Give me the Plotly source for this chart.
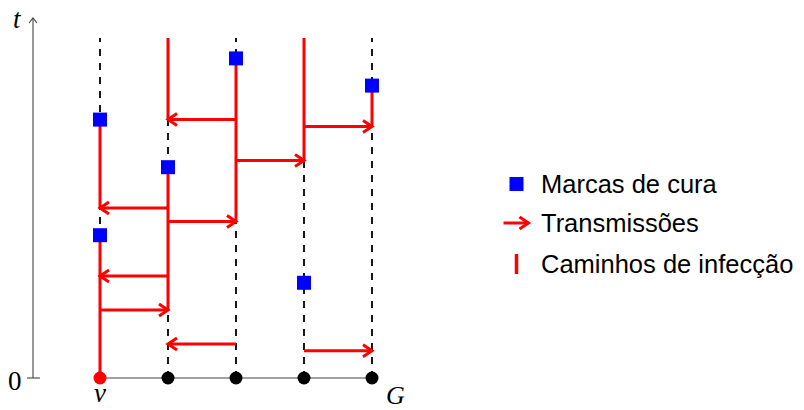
import plotly.graph_objects as go

# ---------------- data ----------------
columns = [0, 1, 2, 3, 4]
node_colors = ["#ff0000", "#000000", "#000000", "#000000", "#000000"]
t_max = 5.0

cure_col = [0, 0, 1, 2, 3, 4]
cure_t = [2.1, 3.8, 3.1, 4.7, 1.4, 4.3]

arrow_src = [0, 1, 1, 1, 2, 2, 2, 3, 3]
arrow_dst = [1, 0, 0, 2, 1, 1, 3, 4, 4]
arrow_t = [1.0, 1.5, 2.5, 2.3, 0.5, 3.8, 3.2, 0.4, 3.7]

path_col = [0, 0, 1, 1, 2, 3, 4]
path_t0 = [0.0, 2.5, 1.0, 3.8, 2.3, 3.2, 3.7]
path_t1 = [2.1, 3.8, 3.1, 5.0, 4.7, 5.0, 4.3]

legend_labels = ["Marcas de cura", "Transmissões", "Caminhos de infecção"]

# ---------------- style ----------------
RED = "#ff0000"
BLUE = "#0000ff"
PX = 68.0                 # pixels per data unit (both axes)
W, H = 804, 410
X0_PX, Y0_PX = 100.0, 378.0   # pixel position of (column 0, t = 0)
HX, HY = 9 / PX, 6 / PX       # arrow head size
AXIS_X = -67 / PX
AXIS_TOP = 360 / PX

fig = go.Figure()

def line(xs, ys, color, width, dash="solid"):
    fig.add_trace(go.Scatter(x=xs, y=ys, mode="lines", hoverinfo="skip",
                             line=dict(color=color, width=width, dash=dash),
                             showlegend=False))

def arrow(x0, x1, y, color, width):
    d = 1 if x1 > x0 else -1
    line([x0, x1, None, x1 - d * HX, x1, x1 - d * HX],
         [y, y, None, y + HY, y, y - HY], color, width)

# dashed time lines
for c in columns:
    line([c, c], [0, t_max], "#000000", 1.8, dash="7px,7px")

# time axis
line([AXIS_X, AXIS_X], [0, AXIS_TOP], "#444444", 1.1)
line([AXIS_X - 4 / PX, AXIS_X, AXIS_X + 4 / PX], [AXIS_TOP - 5 / PX, AXIS_TOP, AXIS_TOP - 5 / PX], "#444444", 1.1)
line([AXIS_X - 6 / PX, AXIS_X + 7 / PX], [0, 0], "#444444", 1.1)

# base graph line
line([columns[0], columns[-1]], [0, 0], "#444444", 1.1)

# infection paths
for c, a, b in zip(path_col, path_t0, path_t1):
    line([c, c], [a, b], RED, 3)

# transmissions
for s, d, t in zip(arrow_src, arrow_dst, arrow_t):
    arrow(columns[s], columns[d], t, RED, 3)

# cure marks
fig.add_trace(go.Scatter(x=[columns[c] for c in cure_col], y=cure_t, mode="markers",
                         hoverinfo="skip", showlegend=False,
                         marker=dict(symbol="square", size=14, color=BLUE, line=dict(width=0))))

# vertices
fig.add_trace(go.Scatter(x=columns, y=[0] * len(columns), mode="markers", hoverinfo="skip",
                         showlegend=False,
                         marker=dict(symbol="circle", size=13, color=node_colors, line=dict(width=0))))

# ---------------- legend (drawn manually) ----------------
LEG_SYM_X = (516.5 - X0_PX) / PX
LEG_TXT_X = (539 - X0_PX) / PX
leg_rows = [(Y0_PX - 184) / PX, (Y0_PX - 223) / PX, (Y0_PX - 264) / PX]

fig.add_trace(go.Scatter(x=[LEG_SYM_X], y=[leg_rows[0]], mode="markers", hoverinfo="skip",
                         showlegend=False,
                         marker=dict(symbol="square", size=14, color=BLUE, line=dict(width=0))))
arrow(LEG_SYM_X - 13 / PX, LEG_SYM_X + 12 / PX, leg_rows[1], RED, 3)
line([LEG_SYM_X, LEG_SYM_X], [leg_rows[2] - 10 / PX, leg_rows[2] + 10 / PX], RED, 3.5)

for lab, ty in zip(legend_labels, leg_rows):
    fig.add_annotation(x=LEG_TXT_X, y=ty, text=lab, showarrow=False, xanchor="left",
                       yanchor="middle",
                       font=dict(family="Liberation Sans", size=25.5, color="#000000"))

# math labels
math_font = dict(family="Liberation Serif", size=27, color="#000000")
fig.add_annotation(x=(17 - X0_PX) / PX, y=(Y0_PX - 19) / PX, text="<i>t</i>", showarrow=False,
                   font=math_font, xanchor="center", yanchor="middle")
fig.add_annotation(x=(15 - X0_PX) / PX, y=(Y0_PX - 381) / PX, text="0", showarrow=False,
                   font=math_font, xanchor="center", yanchor="middle")
fig.add_annotation(x=columns[0], y=(Y0_PX - 393) / PX, text="<i>v</i>", showarrow=False,
                   font=math_font, xanchor="center", yanchor="middle")
fig.add_annotation(x=columns[-1] + 23 / PX, y=(Y0_PX - 395) / PX, text="<i>G</i>", showarrow=False,
                   font=dict(family="Liberation Serif", size=26, color="#000000"),
                   xanchor="center", yanchor="middle")

fig.update_layout(
    width=W, height=H,
    margin=dict(l=0, r=0, t=0, b=0),
    paper_bgcolor="white", plot_bgcolor="white",
    xaxis=dict(range=[-X0_PX / PX, (W - X0_PX) / PX], visible=False, fixedrange=True),
    yaxis=dict(range=[(Y0_PX - H) / PX, Y0_PX / PX], visible=False, fixedrange=True),
    showlegend=False,
)

# remove the default page margin so the figure fills the window exactly
fig.write_html("out.html", config={"displayModeBar": False},
               post_script="document.body.style.margin='0';")
